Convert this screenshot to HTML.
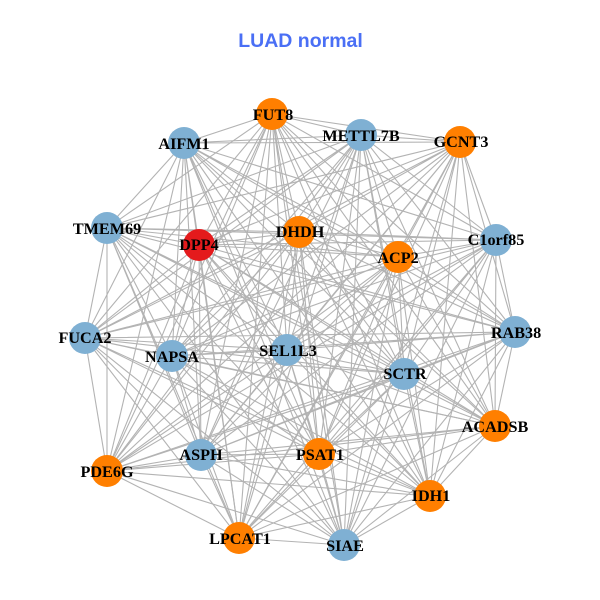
<!DOCTYPE html>
<html>
<head>
<meta charset="utf-8">
<style>
html,body{margin:0;padding:0;background:#fff;width:600px;height:600px;overflow:hidden}
svg{display:block}
.n{font-family:"Liberation Serif",serif;font-weight:bold;font-size:16.200px;fill:#000;text-anchor:middle}
</style>
</head>
<body>
<svg width="600" height="600" viewBox="0 0 600 600" xmlns="http://www.w3.org/2000/svg">
<rect width="600" height="600" fill="#fff"/>
<text x="300.500" y="47" font-family="'Liberation Sans',sans-serif" font-weight="bold" font-size="19.500" fill="#4a6ff5" text-anchor="middle">LUAD normal</text>
<g fill="none" stroke="#b3b3b3" stroke-width="1.100">
<path d="M272 114L184 143M272 114L361 135M272 114L460 142M272 114L107 228M272 114L199 245M272 114L299 232M272 114L398 257M272 114L496 240M272 114L515 332M272 114L85 338M272 114L172 356M272 114L287 350M272 114L404 374M272 114L495 426M272 114L107 471M272 114L201 455M272 114L319 454M272 114L430 496M272 114L239 538M272 114L344 545"/>
<path d="M184 143L361 135M184 143L460 142M184 143L107 228M184 143L199 245M184 143L299 232M184 143L398 257M184 143L496 240M184 143L515 332M184 143L85 338M184 143L172 356M184 143L287 350M184 143L404 374M184 143L495 426M184 143L107 471M184 143L201 455M184 143L319 454M184 143L430 496M184 143L239 538M184 143L344 545"/>
<path d="M361 135L460 142M361 135L107 228M361 135L199 245M361 135L299 232M361 135L398 257M361 135L496 240M361 135L515 332M361 135L85 338M361 135L172 356M361 135L287 350M361 135L404 374M361 135L495 426M361 135L107 471M361 135L201 455M361 135L319 454M361 135L430 496M361 135L239 538M361 135L344 545"/>
<path d="M460 142L107 228M460 142L199 245M460 142L299 232M460 142L398 257M460 142L496 240M460 142L515 332M460 142L85 338M460 142L172 356M460 142L287 350M460 142L404 374M460 142L495 426M460 142L107 471M460 142L201 455M460 142L319 454M460 142L430 496M460 142L239 538M460 142L344 545"/>
<path d="M107 228L199 245M107 228L299 232M107 228L398 257M107 228L496 240M107 228L515 332M107 228L85 338M107 228L172 356M107 228L287 350M107 228L404 374M107 228L495 426M107 228L107 471M107 228L201 455M107 228L319 454M107 228L430 496M107 228L239 538M107 228L344 545"/>
<path d="M199 245L299 232M199 245L398 257M199 245L496 240M199 245L515 332M199 245L85 338M199 245L172 356M199 245L287 350M199 245L404 374M199 245L495 426M199 245L107 471M199 245L201 455M199 245L319 454M199 245L430 496M199 245L239 538M199 245L344 545"/>
<path d="M299 232L398 257M299 232L496 240M299 232L515 332M299 232L85 338M299 232L172 356M299 232L287 350M299 232L404 374M299 232L495 426M299 232L107 471M299 232L201 455M299 232L319 454M299 232L430 496M299 232L239 538M299 232L344 545"/>
<path d="M398 257L496 240M398 257L515 332M398 257L85 338M398 257L172 356M398 257L287 350M398 257L404 374M398 257L495 426M398 257L107 471M398 257L201 455M398 257L319 454M398 257L430 496M398 257L239 538M398 257L344 545"/>
<path d="M496 240L515 332M496 240L85 338M496 240L172 356M496 240L287 350M496 240L404 374M496 240L495 426M496 240L107 471M496 240L201 455M496 240L319 454M496 240L430 496M496 240L239 538M496 240L344 545"/>
<path d="M515 332L85 338M515 332L172 356M515 332L287 350M515 332L404 374M515 332L495 426M515 332L107 471M515 332L201 455M515 332L319 454M515 332L430 496M515 332L239 538M515 332L344 545"/>
<path d="M85 338L172 356M85 338L287 350M85 338L404 374M85 338L495 426M85 338L107 471M85 338L201 455M85 338L319 454M85 338L430 496M85 338L239 538M85 338L344 545"/>
<path d="M172 356L287 350M172 356L404 374M172 356L495 426M172 356L107 471M172 356L201 455M172 356L319 454M172 356L430 496M172 356L239 538M172 356L344 545"/>
<path d="M287 350L404 374M287 350L495 426M287 350L107 471M287 350L201 455M287 350L319 454M287 350L430 496M287 350L239 538M287 350L344 545"/>
<path d="M404 374L495 426M404 374L107 471M404 374L201 455M404 374L319 454M404 374L430 496M404 374L239 538M404 374L344 545"/>
<path d="M495 426L107 471M495 426L201 455M495 426L319 454M495 426L430 496M495 426L239 538M495 426L344 545"/>
<path d="M107 471L201 455M107 471L319 454M107 471L430 496M107 471L239 538M107 471L344 545"/>
<path d="M201 455L319 454M201 455L430 496M201 455L239 538M201 455L344 545"/>
<path d="M319 454L430 496M319 454L239 538M319 454L344 545"/>
<path d="M430 496L239 538M430 496L344 545"/>
<path d="M239 538L344 545"/>
</g>
<g fill="#ff7f00">
<circle cx="272" cy="114" r="16"/><circle cx="460" cy="142" r="16"/><circle cx="299" cy="232" r="16"/><circle cx="398" cy="257" r="16"/><circle cx="495" cy="426" r="16"/><circle cx="107" cy="471" r="16"/><circle cx="319" cy="454" r="16"/><circle cx="430" cy="496" r="16"/><circle cx="239" cy="538" r="16"/>
</g>
<g fill="#7fb0d3">
<circle cx="184" cy="143" r="16"/><circle cx="361" cy="135" r="16"/><circle cx="107" cy="228" r="16"/><circle cx="496" cy="240" r="16"/><circle cx="515" cy="332" r="16"/><circle cx="85" cy="338" r="16"/><circle cx="172" cy="356" r="16"/><circle cx="287" cy="350" r="16"/><circle cx="404" cy="374" r="16"/><circle cx="201" cy="455" r="16"/><circle cx="344" cy="545" r="16"/>
</g>
<circle cx="199" cy="245" r="16" fill="#e41a1c"/>
<g class="n">
<text class="n" x="273" y="120">FUT8</text>
<text class="n" x="184" y="149">AIFM1</text>
<text class="n" x="361" y="141">METTL7B</text>
<text class="n" x="461" y="147">GCNT3</text>
<text class="n" x="107" y="234">TMEM69</text>
<text class="n" x="199" y="250">DPP4</text>
<text class="n" x="300" y="237">DHDH</text>
<text class="n" x="398" y="263">ACP2</text>
<text class="n" x="496" y="245">C1orf85</text>
<text class="n" x="516" y="338">RAB38</text>
<text class="n" x="85" y="343">FUCA2</text>
<text class="n" x="172" y="362">NAPSA</text>
<text class="n" x="288" y="356">SEL1L3</text>
<text class="n" x="405" y="379">SCTR</text>
<text class="n" x="495" y="432">ACADSB</text>
<text class="n" x="107" y="477">PDE6G</text>
<text class="n" x="201" y="460">ASPH</text>
<text class="n" x="320" y="460">PSAT1</text>
<text class="n" x="431" y="501">IDH1</text>
<text class="n" x="240" y="544">LPCAT1</text>
<text class="n" x="345" y="551">SIAE</text>
</g>
</svg>
</body>
</html>
